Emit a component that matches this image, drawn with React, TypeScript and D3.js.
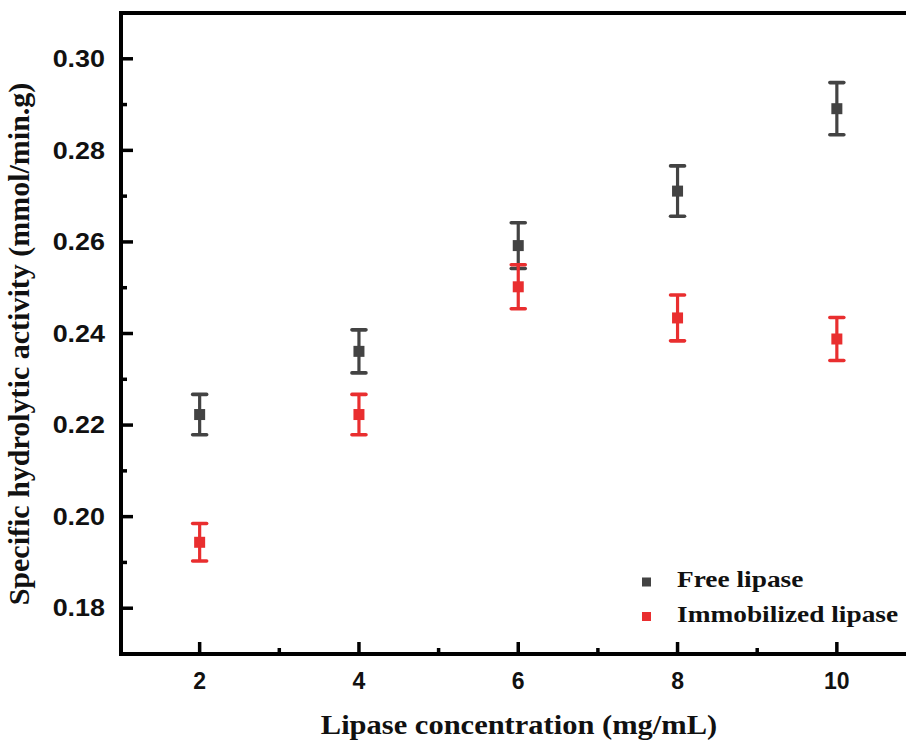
import React from "react";
import * as d3 from "d3";

const concentrations = [2, 4, 6, 8, 10];
const freeMeans = [0.2223, 0.2361, 0.2592, 0.2711, 0.2891];
const freeErrors = [0.0044, 0.0047, 0.005, 0.0055, 0.0057];
const immobilizedMeans = [0.1944, 0.2223, 0.2502, 0.2434, 0.2388];
const immobilizedErrors = [0.0041, 0.0044, 0.0048, 0.005, 0.0047];
const seriesNames = ["Free lipase", "Immobilized lipase"];
const seriesColors = ["#434343", "#e92e2f"];
const xMajorTicks = [2, 4, 6, 8, 10];
const xMinorTicks = [3, 5, 7, 9];
const yMajorTicks = [0.18, 0.2, 0.22, 0.24, 0.26, 0.28, 0.3];
const yMinorTicks = [0.19, 0.21, 0.23, 0.25, 0.27, 0.29];

const W = 906;
const H = 740;
const left = 121;
const right = 916.5;
const top = 13;
const bottom = 654;

export default function App() {
  const x = d3.scaleLinear().domain([1, 11]).range([left - 1, right]);
  const y = d3.scaleLinear().domain([0.17, 0.31]).range([bottom, top]);

  const series = [
    { name: seriesNames[0], color: seriesColors[0], means: freeMeans, errs: freeErrors },
    { name: seriesNames[1], color: seriesColors[1], means: immobilizedMeans, errs: immobilizedErrors },
  ];

  const serif = "'Liberation Serif', 'Times New Roman', serif";
  const sans = "'Liberation Sans', Arial, sans-serif";
  const axisW = 4;
  const marker = 11;
  const capHalf = 7;

  return (
    <svg
      width={W}
      height={H}
      style={{ position: "absolute", left: 0, top: 0, background: "#fff" }}
    >
      {/* series: error bars then square markers */}
      {series.map((s) => (
        <g key={s.name}>
          {concentrations.map((c, i) => {
            const cx = x(c);
            const yt = y(s.means[i] + s.errs[i]);
            const yb = y(s.means[i] - s.errs[i]);
            const ym = y(s.means[i]);
            return (
              <g key={c}>
                <line x1={cx} x2={cx} y1={yt} y2={yb} stroke={s.color} strokeWidth={3.2} />
                <line
                  x1={cx - capHalf}
                  x2={cx + capHalf}
                  y1={yt}
                  y2={yt}
                  stroke={s.color}
                  strokeWidth={3.6}
                  strokeLinecap="round"
                />
                <line
                  x1={cx - capHalf}
                  x2={cx + capHalf}
                  y1={yb}
                  y2={yb}
                  stroke={s.color}
                  strokeWidth={3.6}
                  strokeLinecap="round"
                />
                <rect
                  x={cx - marker / 2}
                  y={ym - marker / 2}
                  width={marker}
                  height={marker}
                  fill={s.color}
                />
              </g>
            );
          })}
        </g>
      ))}

      {/* frame */}
      <line x1={left} x2={right + 10} y1={top} y2={top} stroke="#000" strokeWidth={axisW} />
      <line x1={left} x2={left} y1={top - axisW / 2} y2={bottom + axisW / 2} stroke="#000" strokeWidth={axisW} />
      <line x1={left - axisW / 2} x2={right + 10} y1={bottom} y2={bottom} stroke="#000" strokeWidth={axisW} />

      {/* x ticks */}
      {xMajorTicks.map((t) => (
        <g key={`xm${t}`}>
          <line x1={x(t)} x2={x(t)} y1={bottom} y2={bottom - 12} stroke="#000" strokeWidth={3.5} />
          <text
            x={x(t)}
            y={bottom + 35}
            textAnchor="middle"
            fontFamily={sans}
            fontWeight="bold"
            fontSize={23}
            fill="#111"
          >
            {t}
          </text>
        </g>
      ))}
      {xMinorTicks.map((t) => (
        <line key={`xn${t}`} x1={x(t)} x2={x(t)} y1={bottom} y2={bottom - 6} stroke="#000" strokeWidth={3.5} />
      ))}

      {/* y ticks */}
      {yMajorTicks.map((t) => (
        <g key={`ym${t}`}>
          <line x1={left} x2={left + 12} y1={y(t)} y2={y(t)} stroke="#000" strokeWidth={3.5} />
          <text
            transform={`translate(105, ${y(t)}) scale(1.17, 1)`}
            dy="0.36em"
            textAnchor="end"
            fontFamily={sans}
            fontWeight="bold"
            fontSize={23}
            fill="#111"
          >
            {d3.format(".2f")(t)}
          </text>
        </g>
      ))}
      {yMinorTicks.map((t) => (
        <line key={`yn${t}`} x1={left} x2={left + 6} y1={y(t)} y2={y(t)} stroke="#000" strokeWidth={3.5} />
      ))}

      {/* axis titles */}
      <text
        transform="translate(519, 734) scale(1.09, 1)"
        textAnchor="middle"
        fontFamily={serif}
        fontWeight="bold"
        fontSize={28}
        fill="#111"
      >
        Lipase concentration (mg/mL)
      </text>
      <text
        transform="translate(29, 344) rotate(-90)"
        textAnchor="middle"
        fontFamily={serif}
        fontWeight="bold"
        fontSize={30}
        fill="#111"
      >
        Specific hydrolytic activity (mmol/min.g)
      </text>

      {/* legend */}
      {series.map((s, i) => (
        <g key={`lg${i}`} transform={`translate(0, ${582 + i * 34.5})`}>
          <rect x={642} y={-4.5} width={9} height={9} fill={s.color} />
          <text
            transform="translate(677, 5) scale(1.19, 1)"
            fontFamily={serif}
            fontWeight="bold"
            fontSize={23}
            fill="#111"
          >
            {s.name}
          </text>
        </g>
      ))}
    </svg>
  );
}
